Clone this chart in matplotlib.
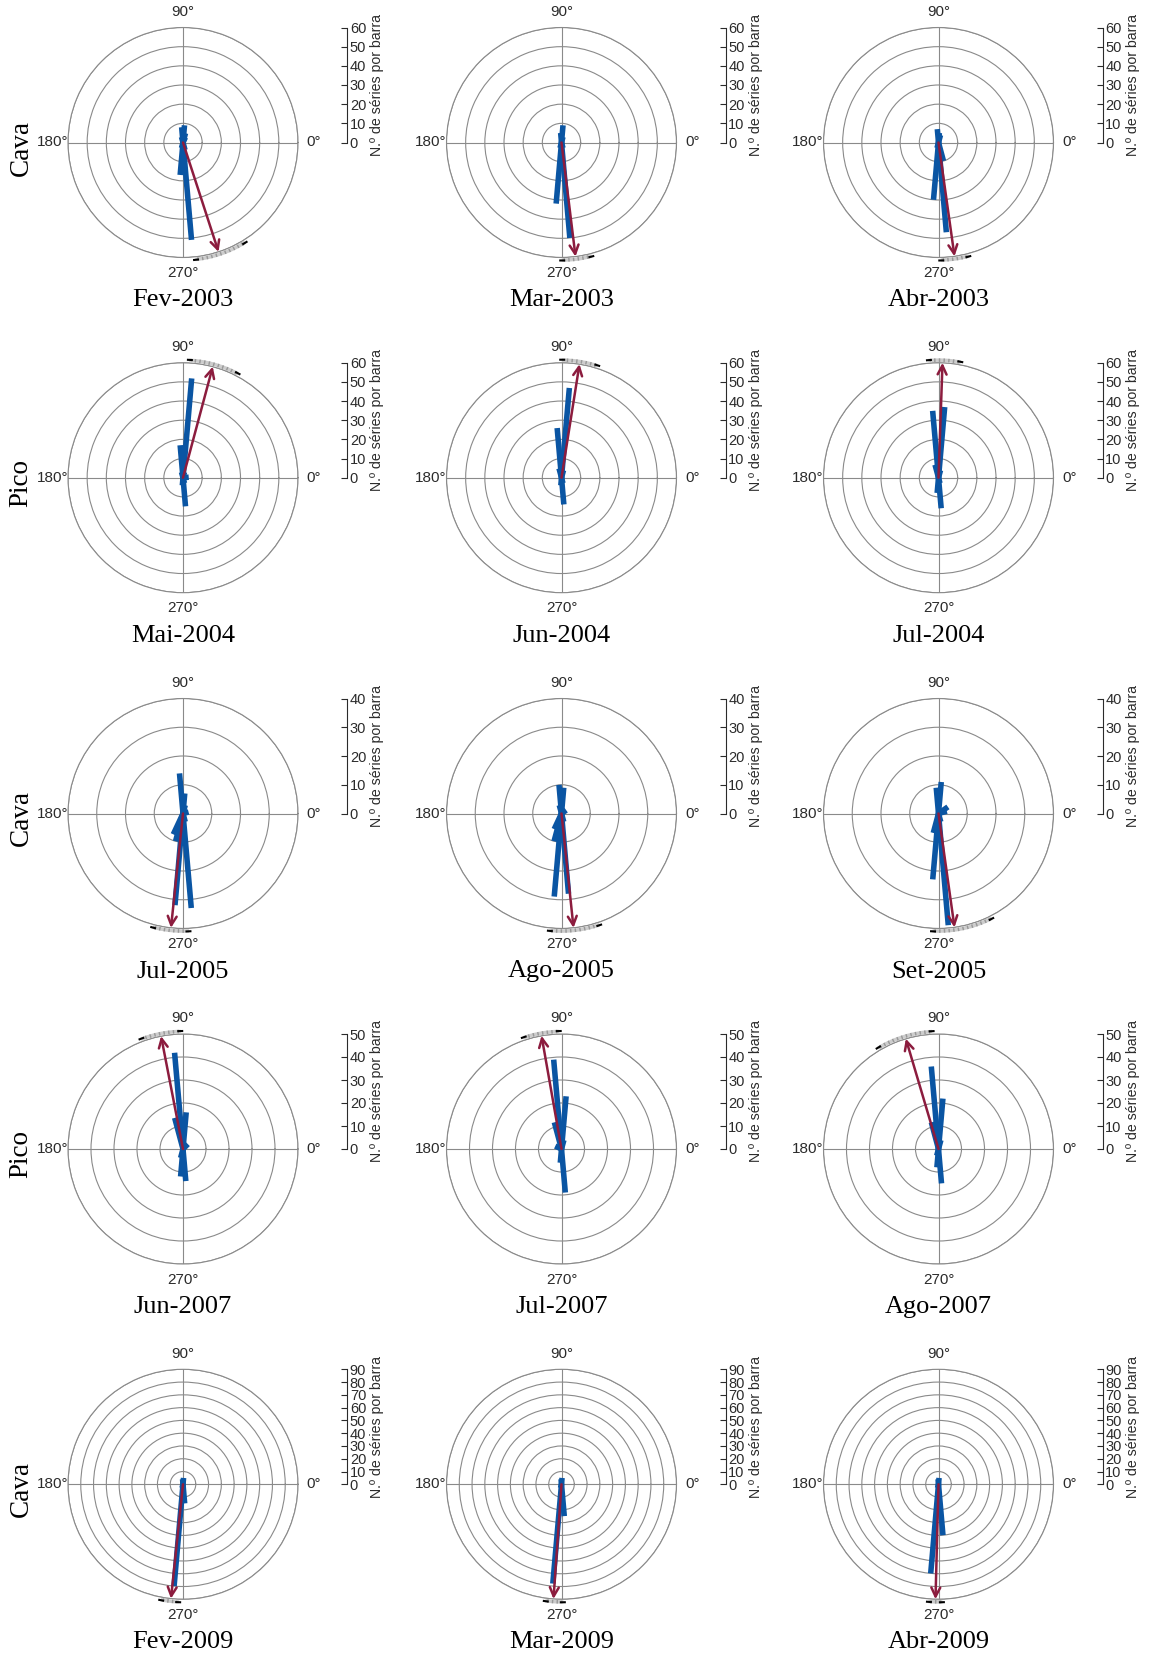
import matplotlib.pyplot as plt
import numpy as np

# panel titles and row labels
titles = ['Fev-2003', 'Mar-2003', 'Abr-2003',
          'Mai-2004', 'Jun-2004', 'Jul-2004',
          'Jul-2005', 'Ago-2005', 'Set-2005',
          'Jun-2007', 'Jul-2007', 'Ago-2007',
          'Fev-2009', 'Mar-2009', 'Abr-2009']
row_labels = ['Cava', 'Pico', 'Cava', 'Pico', 'Cava']
rmax_rows = [60, 60, 40, 50, 90]

# rose bars: direction (deg) and number of series per bar
bar_angles = [
    [275, 265, 85, 95, 75, 65, 105, 255, 285],
    [275, 265, 85, 95, 75, 255, 285],
    [275, 265, 95, 85, 285, 75, 255],
    [85, 95, 275, 265, 5, 75, 105, 285],
    [85, 95, 275, 105, 265, 75, 285],
    [85, 95, 275, 265, 105, 75, 285],
    [275, 265, 95, 85, 245, 255, 285, 75, 15],
    [265, 275, 95, 85, 255, 245, 285, 35, 105],
    [275, 265, 85, 95, 35, 255, 15, 285],
    [95, 85, 105, 275, 265, 45, 255],
    [95, 85, 105, 275, 155, 265, 75],
    [95, 85, 105, 275, 265, 75, 255],
    [265, 275, 85, 95, 255],
    [265, 275, 85, 95, 255],
    [265, 275, 85, 95, 255],
]
bar_counts = [
    [51, 17, 9, 8, 5, 3, 3, 3, 4],
    [50, 32, 9, 5, 3, 3, 3],
    [47, 30, 7, 5, 10, 4, 3],
    [52, 17, 15, 4, 3, 3, 3, 3],
    [47, 26, 14, 5, 4, 4, 3],
    [37, 35, 16, 8, 7, 4, 3],
    [33, 32, 14, 7, 8, 10, 3, 3, 2],
    [29, 28, 10, 9, 10, 6, 3, 2, 3],
    [39, 23, 11, 9, 4, 7, 3, 3],
    [42, 16, 14, 14, 12, 3, 4],
    [39, 23, 12, 19, 3, 6, 4],
    [36, 22, 12, 15, 8, 4, 3],
    [80, 15, 5, 4, 3],
    [78, 25, 5, 4, 3],
    [70, 40, 5, 4, 3],
]

# mean direction and its confidence interval (deg)
mean_dir = [288, 277, 278, 75, 81, 88, 264, 276, 278, 101, 100, 106.5, 264, 266, 268.5]
ci_low = [277, 271, 272, 63, 73, 80, 256, 265, 268, 92, 92, 94, 260, 263, 266]
ci_high = [301, 284, 284, 86, 89, 94, 272, 288, 296, 110, 108, 120, 267, 270, 271]

BLUE = '#0a55a3'
RED = '#8c1c3e'
GRID = '#8a8a8a'
TXT = '#2b2b2b'
SANS = 'Liberation Sans'
SERIF = 'Liberation Serif'

W, H = 1149, 1655
R = 115
col_x = [183, 561.5, 938.5]
row_y = [142.5, 477.7, 813.5, 1149, 1484.3]

fig = plt.figure(figsize=(W / 100, H / 100), dpi=100)


def px_axes(x0, y0, w, h, **kw):
    return fig.add_axes([x0 / W, 1 - (y0 + h) / H, w / W, h / H], **kw)


for i in range(5):
    rmax = rmax_rows[i]
    cy = row_y[i]
    fig.text(21 / W, 1 - (cy + 5) / H, row_labels[i], rotation=90,
             ha='center', va='center', fontsize=19.5, family=SERIF, color='k')
    for j in range(3):
        k = i * 3 + j
        cx = col_x[j]
        ax = px_axes(cx - R, cy - R, 2 * R, 2 * R, projection='polar')
        ax.set_ylim(0, rmax)
        ax.set_yticks(np.arange(10, rmax + 1, 10))
        ax.set_yticklabels([])
        ax.set_xticks(np.deg2rad([0, 90, 180, 270]))
        ax.set_xticklabels(['0°', '90°', '180°', '270°'])
        ax.tick_params(axis='x', pad=0.8, labelsize=11, colors=TXT)
        for lab in ax.get_xticklabels():
            lab.set_family(SANS)
        ax.grid(color=GRID, lw=0.8)
        ax.spines['polar'].set_color(GRID)
        ax.spines['polar'].set_linewidth(0.8)

        for a, c in zip(bar_angles[k], bar_counts[k]):
            t = np.deg2rad(a)
            ax.plot([t, t], [0, c], color=BLUE, lw=4, solid_capstyle='butt', zorder=3)

        # confidence arc on the outer circle
        th = np.deg2rad(np.linspace(ci_low[k], ci_high[k], 60))
        rr = np.full_like(th, rmax * 1.022)
        ax.plot(th, rr, color='#cdcdcd', lw=2.6, clip_on=False, zorder=4)
        ax.plot(th, rr, color='#999999', lw=2.6, ls=(0, (0.4, 0.9)), clip_on=False, zorder=4)
        for e, s in ((ci_low[k], -1), (ci_high[k], 1)):
            te = np.deg2rad([e - s * 0.3, e + s * 1.6])
            ax.plot(te, [rmax * 1.026] * 2, color='k', lw=1.5, clip_on=False, zorder=5)

        ax.annotate('', xy=(np.deg2rad(mean_dir[k]), rmax), xytext=(0, 0),
                    arrowprops=dict(arrowstyle='->', color=RED, lw=1.8,
                                    mutation_scale=16, shrinkA=0, shrinkB=0),
                    zorder=6, annotation_clip=False)

        fig.text(cx / W, 1 - (cy + 158) / H, titles[k], ha='center', va='center',
                 fontsize=19, family=SERIF, color='k')

        # radial scale on the right
        sax = px_axes(cx + 164 - 10, cy - R, 10, R)
        sax.set_ylim(0, rmax)
        sax.set_yticks(np.arange(0, rmax + 1, 10))
        sax.set_xticks([])
        for side in ('left', 'top', 'bottom'):
            sax.spines[side].set_visible(False)
        sax.spines['right'].set_color(TXT)
        sax.spines['right'].set_linewidth(0.8)
        sax.patch.set_visible(False)
        sax.yaxis.tick_right()
        sax.tick_params(axis='y', direction='in', length=4, width=0.8, pad=2,
                        labelsize=10.5, colors=TXT)
        for lab in sax.get_yticklabels():
            lab.set_family(SANS)
        sax.yaxis.set_label_position('right')
        sax.set_ylabel('N.º de séries por barra', fontsize=10.2, family=SANS,
                       color=TXT, labelpad=3)

fig.savefig('out.png', dpi=100)
